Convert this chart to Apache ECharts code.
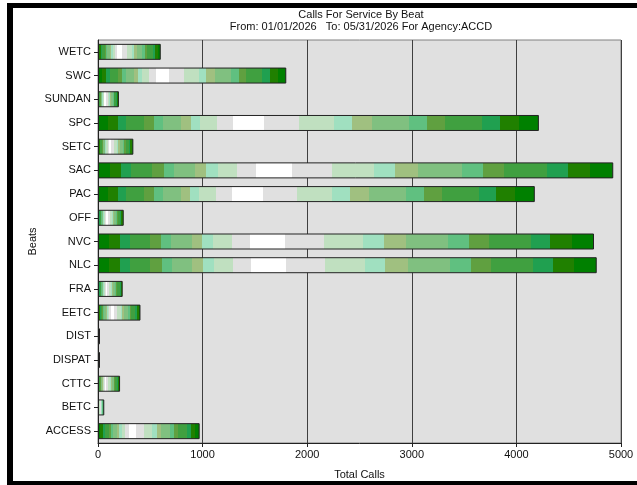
<!DOCTYPE html>
<html>
<head>
<meta charset="utf-8">
<script src="https://cdn.jsdelivr.net/npm/echarts@6/dist/echarts.min.js"></script>
<style>html,body{margin:0;padding:0;background:#fff;}#c{width:637px;height:485px;}</style>
</head>
<body>
<div id="c"></div>
<script>
const categories = ['WETC','SWC','SUNDAN','SPC','SETC','SAC','PAC','OFF','NVC','NLC','FRA','EETC','DIST','DISPAT','CTTC','BETC','ACCESS'];
const totalCalls = [600,1800,200,4215,338,4926,4176,246,4742,4768,236,406,15,10,211,60,972];
const xTicks = [0,1000,2000,3000,4000,5000];
const titleText = 'Calls For Service By Beat';
const subtitleText = 'From: 01/01/2026   To: 05/31/2026 For Agency:ACCD';

// banded gradient style along each bar
const bandColors = ['#008000','#208000','#20a050','#40a040','#60a040','#60c080','#80c080','#a0c080','#a0e0c0','#c0e0c0','#e0e0e0','#ffffff','#e0e0e0','#c0e0c0','#a0e0c0','#a0c080','#80c080','#60c080','#60a040','#40a040','#20a050','#208000','#008000'];
const bandEnds = [0.023,0.045,0.064,0.105,0.128,0.148,0.189,0.210,0.232,0.270,0.307,0.377,0.455,0.535,0.576,0.621,0.706,0.747,0.788,0.872,0.912,0.955,1];
const stops = [];
let start = 0;
bandColors.forEach((c,i)=>{ stops.push({offset:start,color:c}); stops.push({offset:bandEnds[i],color:c}); start = bandEnds[i]; });

const font = 'Liberation Sans, Arial, sans-serif';
const chart = echarts.init(document.getElementById('c'), null, {renderer:'canvas'});
chart.setOption({
  animation:false,
  backgroundColor:'#ffffff',
  textStyle:{fontFamily:font},
  title:[
    {text:titleText,left:356,top:4,textAlign:'center',textStyle:{fontSize:11,fontWeight:'normal',color:'#111',fontFamily:font}},
    {text:subtitleText,left:356,top:16,textAlign:'center',textStyle:{fontSize:11,fontWeight:'normal',color:'#111',fontFamily:font}}
  ],
  grid:{left:98,right:16,top:40,bottom:42,show:true,backgroundColor:'#e0e0e0',borderColor:'#808080',borderWidth:1},
  xAxis:{
    type:'value',min:0,max:5000,interval:1000,
    name:'Total Calls',nameLocation:'middle',nameGap:26,
    nameTextStyle:{fontSize:11,color:'#111',fontFamily:font},
    axisLine:{show:true,lineStyle:{color:'#222',width:1}},
    axisTick:{show:true,length:4,lineStyle:{color:'#222'}},
    axisLabel:{fontSize:11,color:'#111',margin:6,fontFamily:font,formatter:v=>xTicks.includes(v)?String(v):''},
    splitLine:{show:true,lineStyle:{color:'#404040',width:1}}
  },
  yAxis:{
    type:'category',data:categories,inverse:true,
    name:'Beats',nameLocation:'middle',nameGap:60,nameMoveOverlap:false,
    nameTextStyle:{fontSize:11,color:'#111',fontFamily:font},
    axisLine:{show:true,lineStyle:{color:'#222',width:1}},
    axisTick:{show:true,alignWithLabel:true,length:4,lineStyle:{color:'#222'}},
    axisLabel:{fontSize:11,color:'#111',margin:7,fontFamily:font},
    splitLine:{show:false}
  },
  graphic:[
    {type:'rect',shape:{x:7,y:3,width:6,height:482},style:{fill:'#000'},z:100},
    {type:'rect',shape:{x:7,y:3,width:630,height:5},style:{fill:'#000'},z:100},
    {type:'rect',shape:{x:7,y:481,width:630,height:4},style:{fill:'#000'},z:100}
  ],
  series:[{
    type:'bar',data:totalCalls,barWidth:16,barMinHeight:2,
    itemStyle:{
      color:new echarts.graphic.LinearGradient(0,0,1,0,stops),
      borderColor:'#222',borderWidth:1
    }
  }]
});
</script>
</body>
</html>
